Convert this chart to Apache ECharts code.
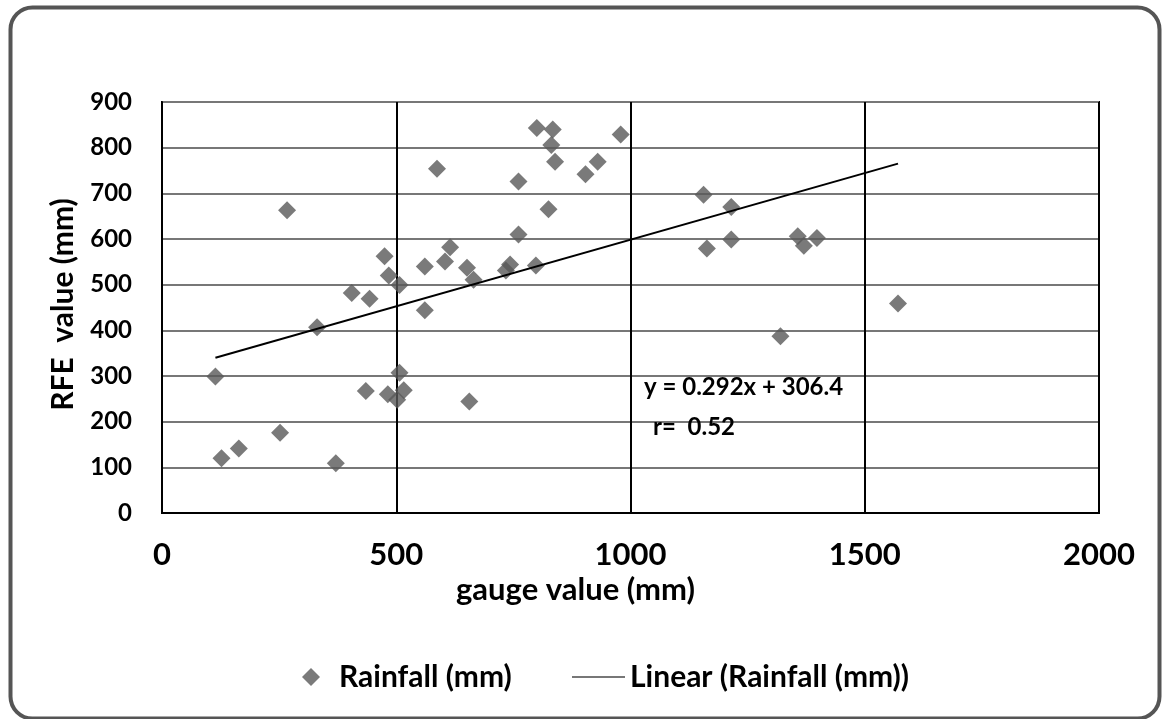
<!DOCTYPE html>
<html>
<head>
<meta charset="utf-8">
<script src="https://cdn.jsdelivr.net/npm/echarts@6/dist/echarts.min.js"></script>
<style>
html,body{margin:0;padding:0;background:#fff;}
#chart{width:1163px;height:719px;}
</style>
</head>
<body>
<div id="chart"></div>
<script>
// gauge value (mm) on x, RFE value (mm) on y
const gaugeValues = [800, 834, 831, 979, 839, 930, 904, 587, 761, 267, 825, 761, 615, 475, 604, 561, 651, 665, 743, 734, 798, 484, 507, 405, 443, 561, 331, 114, 507, 435, 482, 516, 502, 656, 252, 164, 127, 371, 1156, 1215, 1163, 1215, 1357, 1370, 1398, 1320, 1571];
const rfeValues   = [843, 840, 806, 829, 769, 769, 742, 754, 726, 663, 665, 610, 582, 562, 551, 540, 537, 511, 544, 531, 542, 520, 499, 482, 469, 444, 407, 299, 307, 267, 260, 269, 248, 244, 176, 141, 120, 109, 697, 670, 579, 599, 606, 585, 602, 387, 459];
// linear trend line end points (as drawn)
const trendX = [114, 1571];
const trendY = [340, 765];
const xTicks = [0, 500, 1000, 1500, 2000];
const yTicks = [0, 100, 200, 300, 400, 500, 600, 700, 800, 900];
const equationText = 'y = 0.292x + 306.4';
const rText = 'r=  0.52';

const FONT = 'Lato';
const scatterData = gaugeValues.map((x, i) => [x, rfeValues[i]]);
const trendData = trendX.map((x, i) => [x, trendY[i]]);

const chart = echarts.init(document.getElementById('chart'), null, {renderer: 'canvas'});
chart.setOption({
  backgroundColor: '#fff',
  animation: false,
  textStyle: {fontFamily: FONT, fontWeight: 'bold', color: '#000'},
  grid: {left: 162, top: 102, width: 937, height: 411, show: true, borderColor: '#000', borderWidth: 2, containLabel: false},
  xAxis: {
    type: 'value', min: xTicks[0], max: xTicks[xTicks.length - 1], interval: 500,
    name: 'gauge value (mm)', nameLocation: 'middle', nameGap: 59,
    nameTextStyle: {fontFamily: FONT, fontWeight: 'bold', fontSize: 31, color: '#000', padding: [0, 110, 0, 0]},
    axisLine: {show: true, lineStyle: {color: '#000', width: 2}},
    axisTick: {show: false},
    axisLabel: {fontFamily: FONT, fontWeight: 'bold', fontSize: 31, color: '#000', margin: 26,
      formatter: v => String(v)},
    splitLine: {show: true, lineStyle: {color: '#000', width: 2}}
  },
  yAxis: {
    type: 'value', min: yTicks[0], max: yTicks[yTicks.length - 1], interval: 100,
    name: 'RFE  value (mm)', nameLocation: 'middle', nameGap: 84, nameRotate: 90,
    nameTextStyle: {fontFamily: FONT, fontWeight: 'bold', fontSize: 30, color: '#000', padding: [0, 0, 0, 6]},
    axisLine: {show: true, lineStyle: {color: '#000', width: 2}},
    axisTick: {show: false},
    axisLabel: {fontFamily: FONT, fontWeight: 'bold', fontSize: 24, color: '#000', margin: 30},
    splitLine: {show: true, lineStyle: {color: '#777', width: 2}}
  },
  legend: [
    {
      data: [{name: 'Rainfall (mm)', icon: 'diamond'}],
      left: 297, top: 657, itemWidth: 18, itemHeight: 18,
      textStyle: {fontFamily: FONT, fontWeight: 'bold', fontSize: 30, color: '#000', padding: [0, 0, 0, 14]}
    },
    {
      data: [{name: 'Linear (Rainfall (mm))', icon: 'rect', itemStyle: {color: '#777'}}],
      left: 567, top: 657, itemWidth: 53, itemHeight: 2,
      textStyle: {fontFamily: FONT, fontWeight: 'bold', fontSize: 30, color: '#000'}
    }
  ],
  graphic: [
    {type: 'rect', left: 8, top: 5, z: -10, silent: true,
     shape: {width: 1149, height: 711, r: 22},
     style: {fill: 'none', stroke: '#555', lineWidth: 4}},
    {type: 'text', left: 644, top: 375, z: 50,
     style: {text: equationText, font: 'bold 24px Lato', fill: '#000'}},
    {type: 'text', left: 653, top: 415, z: 50,
     style: {text: rText, font: 'bold 24px Lato', fill: '#000'}}
  ],
  series: [
    {
      name: 'Rainfall (mm)', type: 'scatter', data: scatterData,
      symbol: 'diamond', symbolSize: 18,
      itemStyle: {color: '#595959'}, z: 3
    },
    {
      name: 'Linear (Rainfall (mm))', type: 'line', data: trendData,
      symbol: 'none', lineStyle: {color: '#000', width: 2}, z: 4
    }
  ]
});
</script>
</body>
</html>
